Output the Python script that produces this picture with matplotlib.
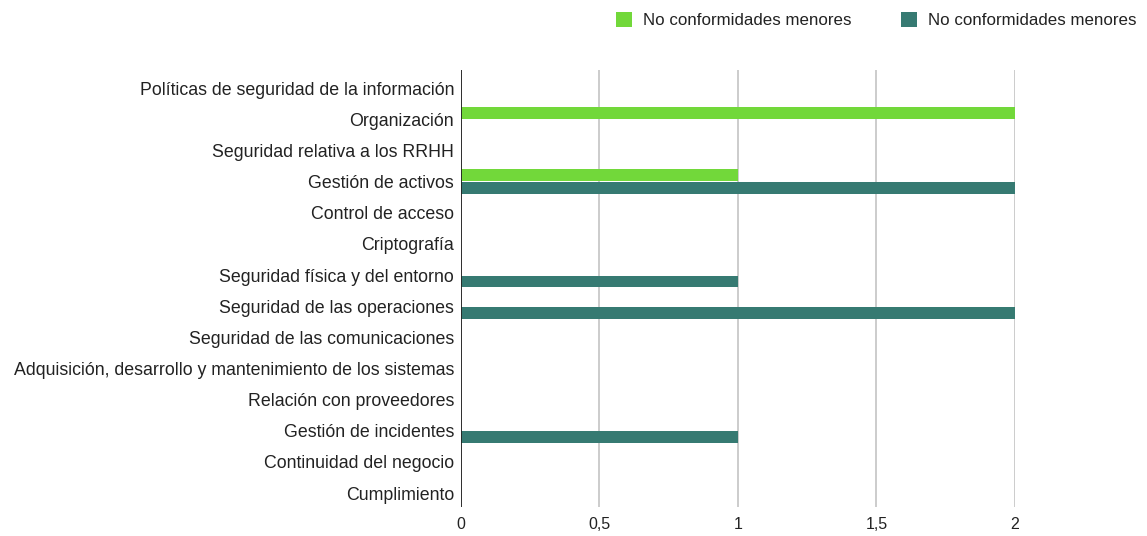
import numpy as np
import matplotlib.pyplot as plt
from matplotlib.ticker import FuncFormatter

plt.rcParams["font.family"] = ["Liberation Sans", "DejaVu Sans"]

CATEGORIAS = [
    "Políticas de seguridad de la información",
    "Organización",
    "Seguridad relativa a los RRHH",
    "Gestión de activos",
    "Control de acceso",
    "Criptografía",
    "Seguridad física y del entorno",
    "Seguridad de las operaciones",
    "Seguridad de las comunicaciones",
    "Adquisición, desarrollo y mantenimiento de los sistemas",
    "Relación con proveedores",
    "Gestión de incidentes",
    "Continuidad del negocio",
    "Cumplimiento",
]
SERIE_A = [0, 2, 0, 1, 0, 0, 0, 0, 0, 0, 0, 0, 0, 0]
SERIE_B = [0, 0, 0, 2, 0, 0, 1, 2, 0, 0, 0, 1, 0, 0]
ETIQUETAS = ["No conformidades menores", "No conformidades menores"]
TICKS_X = [0, 0.5, 1, 1.5, 2]

VERDE = "#72d83a"
TEAL = "#367a72"
GRIS = "#cccccc"
TEXTO = "#222222"

fig = plt.figure(figsize=(11.47, 5.36), dpi=100)
ax = fig.add_axes([0.4019, 0.054, 0.483, 0.815])

y = np.arange(len(CATEGORIAS))
h = 0.38
ax.barh(y - 0.205, SERIE_A, height=h, color=VERDE, label=ETIQUETAS[0], zorder=3)
ax.barh(y + 0.205, SERIE_B, height=h, color=TEAL, label=ETIQUETAS[1], zorder=3)

ax.set_ylim(13.45, -0.58)
ax.set_xlim(0, 2.0)
ax.set_yticks(y)
ax.set_yticklabels(CATEGORIAS, fontsize=12.8, color=TEXTO)
ax.set_xticks(TICKS_X)
ax.xaxis.set_major_formatter(FuncFormatter(lambda v, _: f"{v:g}".replace(".", ",")))
ax.tick_params(axis="x", labelsize=11.5, labelcolor=TEXTO, length=0, pad=7)
ax.tick_params(axis="y", length=0, pad=5)

ax.grid(axis="x", color=GRIS, linewidth=1.4, zorder=0)
ax.axvline(0, color="#222222", linewidth=1.3, zorder=4)
for side in ("top", "right", "bottom", "left"):
    ax.spines[side].set_visible(False)

fig.legend(loc="upper right", bbox_to_anchor=(1.004, 1.006), ncol=2, frameon=False,
           fontsize=12.2, handlelength=0.95, handleheight=0.95, columnspacing=2.9,
           handletextpad=0.65, labelcolor=TEXTO)

fig.savefig("out.png", dpi=100)
